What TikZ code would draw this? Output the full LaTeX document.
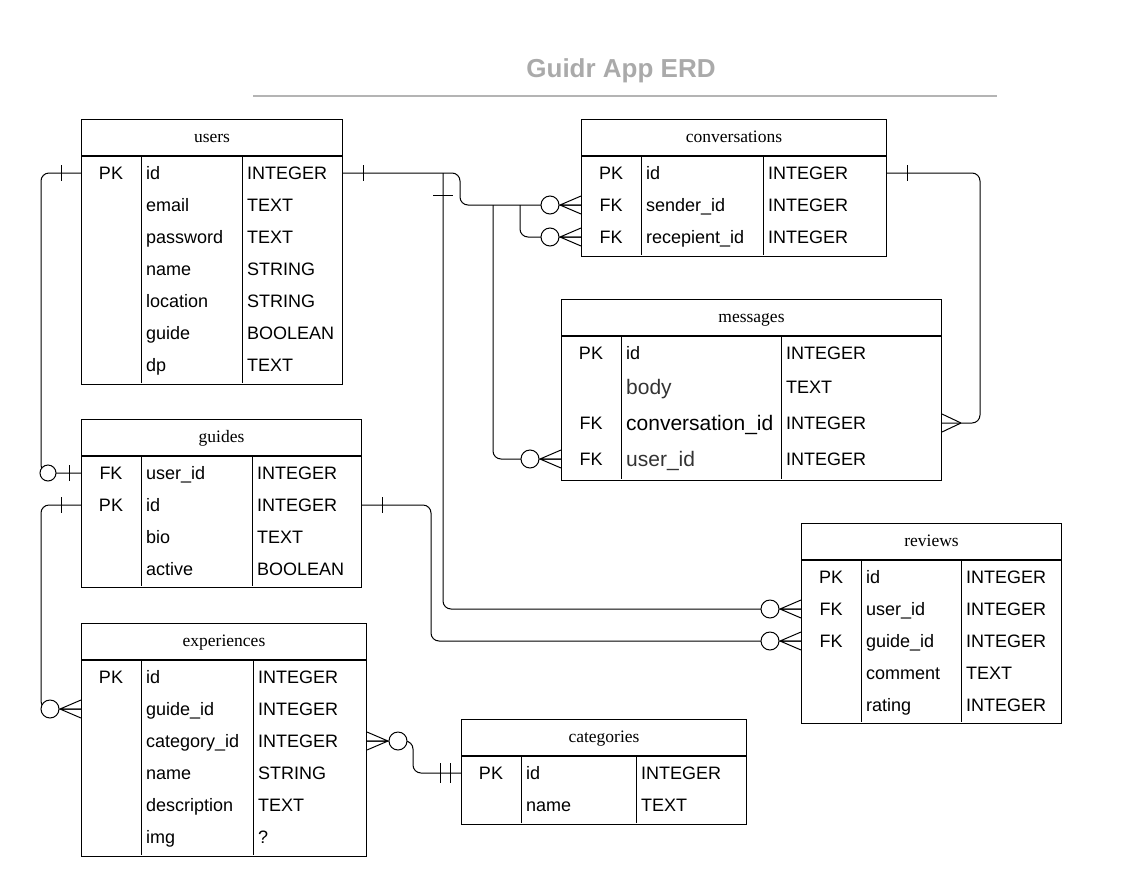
\documentclass[tikz,border=0pt]{standalone}
\usepackage{fontspec}
\setmainfont{Liberation Sans}
\newfontfamily\headfont{Liberation Serif}
\usepackage{tikz}
\usetikzlibrary{calc}
\definecolor{titlegray}{RGB}{170,170,170}
\definecolor{rulegray}{RGB}{180,180,180}
\definecolor{softblack}{RGB}{51,51,51}

\tikzset{
  tablehead/.style={draw, line width=1pt, anchor=north west, inner sep=0pt,
    minimum height=36, text height=12pt, text depth=2pt,
    font=\headfont\fontsize{17.5}{20}\selectfont},
  tablebody/.style={draw, line width=1pt, anchor=north west, inner sep=0pt},
  cell/.style={inner sep=0pt, anchor=west, text height=12.9pt, text depth=0pt,
    font=\fontsize{18}{21}\selectfont},
  keycell/.style={cell, anchor=center},
  bigcell/.style={cell, text height=15pt, font=\fontsize{21}{24}\selectfont},
  bigsoft/.style={bigcell, text=softblack},
  conn/.style={line width=1pt, rounded corners=8},
  % markers: entity edge at the origin, line leaving towards -x
  pics/zeromany/.style={code={
    \draw[line width=1pt, fill=white] (-31,0) circle[radius=9];
    \draw[line width=1pt] (-21,0) -- (0,-9) (-21,0) -- (0,0) (-21,0) -- (0,9);
  }},
  pics/many/.style={code={
    \draw[line width=1pt] (-19,0) -- (0,-9) (-19,0) -- (0,9);
  }},
  pics/one/.style={code={
    \draw[line width=1pt] (-20,-8) -- (-20,8);
  }},
  pics/onlyone/.style={code={
    \draw[line width=1pt] (-21,-10) -- (-21,10) (-11,-10) -- (-11,10);
  }},
  pics/zeroone/.style={code={
    \draw[line width=1pt, fill=white] (-33,0) circle[radius=8];
    \draw[line width=1pt] (-12,-8) -- (-12,8);
  }},
}

\begin{document}
\begin{tikzpicture}[x=1pt, y=-1pt]
  \useasboundingbox (0,0) rectangle (1141,895);

  % title
  \node[font=\bfseries\fontsize{26}{30}\selectfont, text=titlegray] (title) at (621,71) {Guidr App ERD};
  \draw[rulegray, line width=2pt] (253,96) -- (997,96);

  % users
  \node[tablehead, minimum width=261] (users) at (81,119) {users};
  \node[tablebody, minimum width=261, minimum height=228] (users-b) at (users.south west) {};
  \draw[line width=1pt] (141,155) -- (141,383) (242,155) -- (242,383);
  \foreach \k/\n/\t [count=\i] in {PK/id/INTEGER, {}/email/TEXT, {}/password/TEXT,
      {}/name/STRING, {}/location/STRING, {}/guide/BOOLEAN, {}/dp/TEXT}{
    \node[keycell] (users-k\i) at (111,141+32*\i) {\k};
    \node[cell] (users-\i) at (146,141+32*\i) {\n};
    \node[cell] (users-t\i) at (247,141+32*\i) {\t};
  }

  % conversations
  \node[tablehead, minimum width=305] (conversations) at (581,119) {conversations};
  \node[tablebody, minimum width=305, minimum height=100] (conversations-b) at (conversations.south west) {};
  \draw[line width=1pt] (641,155) -- (641,255) (763,155) -- (763,255);
  \foreach \k/\n/\t [count=\i] in {PK/id/INTEGER, FK/sender\_id/INTEGER, FK/recepient\_id/INTEGER}{
    \node[keycell] (conversations-k\i) at (611,141+32*\i) {\k};
    \node[cell] (conversations-\i) at (646,141+32*\i) {\n};
    \node[cell] (conversations-t\i) at (768,141+32*\i) {\t};
  }

  % messages
  \node[tablehead, minimum width=380] (messages) at (561,299) {messages};
  \node[tablebody, minimum width=380, minimum height=144] (messages-b) at (messages.south west) {};
  \draw[line width=1pt] (621,335) -- (621,479) (781,335) -- (781,479);
  \foreach \k/\n/\t/\y/\s [count=\i] in {PK/id/INTEGER/353/cell, {}/body/TEXT/387/bigsoft,
      FK/conversation\_id/INTEGER/423/bigcell, FK/user\_id/INTEGER/459/bigsoft}{
    \node[keycell] (messages-k\i) at (591,\y) {\k};
    \node[\s] (messages-\i) at (626,\y) {\n};
    \node[cell] (messages-t\i) at (786,\y) {\t};
  }

  % guides
  \node[tablehead, minimum width=280] (guides) at (81,419) {guides};
  \node[tablebody, minimum width=280, minimum height=131] (guides-b) at (guides.south west) {};
  \draw[line width=1pt] (141,455) -- (141,586) (252,455) -- (252,586);
  \foreach \k/\n/\t [count=\i] in {FK/user\_id/INTEGER, PK/id/INTEGER, {}/bio/TEXT, {}/active/BOOLEAN}{
    \node[keycell] (guides-k\i) at (111,441+32*\i) {\k};
    \node[cell] (guides-\i) at (146,441+32*\i) {\n};
    \node[cell] (guides-t\i) at (257,441+32*\i) {\t};
  }

  % reviews
  \node[tablehead, minimum width=260] (reviews) at (801,523) {reviews};
  \node[tablebody, minimum width=260, minimum height=163] (reviews-b) at (reviews.south west) {};
  \draw[line width=1pt] (861,559) -- (861,722) (961,559) -- (961,722);
  \foreach \k/\n/\t [count=\i] in {PK/id/INTEGER, FK/user\_id/INTEGER, FK/guide\_id/INTEGER,
      {}/comment/TEXT, {}/rating/INTEGER}{
    \node[keycell] (reviews-k\i) at (831,545+32*\i) {\k};
    \node[cell] (reviews-\i) at (866,545+32*\i) {\n};
    \node[cell] (reviews-t\i) at (966,545+32*\i) {\t};
  }

  % experiences
  \node[tablehead, minimum width=285] (experiences) at (81,623) {experiences};
  \node[tablebody, minimum width=285, minimum height=196] (experiences-b) at (experiences.south west) {};
  \draw[line width=1pt] (141,659) -- (141,855) (253,659) -- (253,855);
  \foreach \k/\n/\t [count=\i] in {PK/id/INTEGER, {}/guide\_id/INTEGER, {}/category\_id/INTEGER,
      {}/name/STRING, {}/description/TEXT, {}/img/?}{
    \node[keycell] (experiences-k\i) at (111,645+32*\i) {\k};
    \node[cell] (experiences-\i) at (146,645+32*\i) {\n};
    \node[cell] (experiences-t\i) at (258,645+32*\i) {\t};
  }

  % categories
  \node[tablehead, minimum width=285] (categories) at (461,719) {categories};
  \node[tablebody, minimum width=285, minimum height=68] (categories-b) at (categories.south west) {};
  \draw[line width=1pt] (521,755) -- (521,823) (636,755) -- (636,823);
  \foreach \k/\n/\t [count=\i] in {PK/id/INTEGER, {}/name/TEXT}{
    \node[keycell] (categories-k\i) at (491,741+32*\i) {\k};
    \node[cell] (categories-\i) at (526,741+32*\i) {\n};
    \node[cell] (categories-t\i) at (641,741+32*\i) {\t};
  }

  % lanes for the connectors
  \coordinate (lane1) at (460,0);
  \coordinate (lane2) at (443,0);
  \coordinate (lane3) at (493,0);
  \coordinate (lane4) at (520,0);
  \coordinate (lane5) at (980,0);
  \coordinate (lane6) at (41,0);
  \coordinate (lane7) at (431,0);
  \coordinate (lane8) at (413,0);

  % users -> conversations
  \draw[conn] (users-b.east |- users-1) -- (lane1 |- users-1) -- (lane1 |- conversations-2)
    -- (conversations-b.west |- conversations-2);
  \draw[conn] (lane4 |- conversations-2) -- (lane4 |- conversations-3)
    -- (conversations-b.west |- conversations-3);
  \pic[xscale=-1] at (users-b.east |- users-1) {one};
  \pic at (conversations-b.west |- conversations-2) {zeromany};
  \pic at (conversations-b.west |- conversations-3) {zeromany};

  % users -> messages
  \draw[conn] (lane3 |- conversations-2) -- (lane3 |- messages-4) -- (messages-b.west |- messages-4);
  \pic at (messages-b.west |- messages-4) {zeromany};

  % users -> reviews
  \draw[conn] (lane2 |- users-1) -- (lane2 |- reviews-2) -- (reviews-b.west |- reviews-2);
  \draw[line width=1pt] ($(lane2 |- users-1)+(-10,22)$) -- ($(lane2 |- users-1)+(10,22)$);
  \pic at (reviews-b.west |- reviews-2) {zeromany};

  % conversations -> messages
  \draw[conn] (conversations-b.east |- conversations-1) -- (lane5 |- conversations-1)
    -- (lane5 |- messages-3) -- (messages-b.east |- messages-3);
  \pic[xscale=-1] at (conversations-b.east |- conversations-1) {one};
  \pic[xscale=-1] at (messages-b.east |- messages-3) {many};

  % users -> guides
  \draw[conn] (users-b.west |- users-1) -- (lane6 |- users-1) -- (lane6 |- guides-1)
    -- (guides-b.west |- guides-1);
  \pic at (users-b.west |- users-1) {one};
  \pic at (guides-b.west |- guides-1) {zeroone};

  % guides -> experiences
  \draw[conn] (guides-b.west |- guides-2) -- (lane6 |- guides-2) -- (lane6 |- experiences-2)
    -- (experiences-b.west |- experiences-2);
  \pic at (guides-b.west |- guides-2) {one};
  \pic at (experiences-b.west |- experiences-2) {zeromany};

  % guides -> reviews
  \draw[conn] (guides-b.east |- guides-2) -- (lane7 |- guides-2) -- (lane7 |- reviews-3)
    -- (reviews-b.west |- reviews-3);
  \pic[xscale=-1] at (guides-b.east |- guides-2) {one};
  \pic at (reviews-b.west |- reviews-3) {zeromany};

  % experiences -> categories
  \draw[conn] (experiences-b.east |- experiences-3) -- (lane8 |- experiences-3)
    -- (lane8 |- categories-1) -- (categories-b.west |- categories-1);
  \pic[xscale=-1] at (experiences-b.east |- experiences-3) {zeromany};
  \pic at (categories-b.west |- categories-1) {onlyone};

\end{tikzpicture}
\end{document}
